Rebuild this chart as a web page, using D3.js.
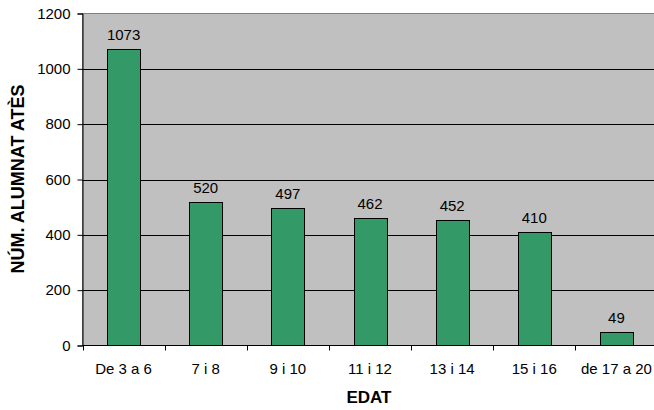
<!DOCTYPE html>
<html lang="ca">
<head>
<meta charset="UTF-8">
<title>Alumnat atès per edat</title>
<script src="https://d3js.org/d3.v7.min.js"></script>
<style>
  body { margin: 0; background: #fff; }
  text { font-family: "Liberation Sans", Arial, sans-serif; }
</style>
</head>
<body>
<svg width="654" height="410"></svg>
<script>
  // data
  let categories = ['De 3 a 6', '7 i 8', '9 i 10', '11 i 12', '13 i 14', '15 i 16', 'de 17 a 20']
  let values = [1073, 520, 497, 462, 452, 410, 49]
  let yTicks = [0, 200, 400, 600, 800, 1000, 1200]

  let svg = d3.select('svg')
  let plotL = 82.5, plotT = 13.5, plotR = 657.5, plotB = 345.5

  let x = d3.scaleBand().domain(categories).range([plotL, plotR]).paddingInner(0.6).paddingOuter(0.3)
  let y = d3.scaleLinear().domain([0, 1200]).range([plotB, plotT])

  // plot area
  svg.append('rect')
    .attr('x', plotL).attr('y', plotT)
    .attr('width', plotR - plotL).attr('height', plotB - plotT)
    .attr('fill', '#c0c0c0')
    .attr('stroke', '#808080')

  // gridlines
  svg.append('g').selectAll('line')
    .data(yTicks.filter(d => d > 0 && d < 1200))
    .join('line')
    .attr('x1', plotL).attr('x2', plotR)
    .attr('y1', d => Math.round(y(d)) + 0.5).attr('y2', d => Math.round(y(d)) + 0.5)
    .attr('stroke', '#000')

  // bars
  svg.append('g').selectAll('rect')
    .data(values)
    .join('rect')
    .attr('x', (d, i) => Math.round(x(categories[i])) + 0.5)
    .attr('y', d => Math.round(y(d)) + 0.5)
    .attr('width', Math.round(x.bandwidth()))
    .attr('height', d => plotB - Math.round(y(d)) - 0.5)
    .attr('fill', '#339966')
    .attr('stroke', '#000')

  // value labels
  svg.append('g').selectAll('text')
    .data(values)
    .join('text')
    .attr('x', (d, i) => x(categories[i]) + x.bandwidth() / 2)
    .attr('y', d => y(d) - 9)
    .attr('text-anchor', 'middle')
    .attr('font-size', 15)
    .attr('fill', '#000')
    .text(d => d)

  // y axis
  let yAxis = svg.append('g')
    .attr('transform', `translate(${plotL},0)`)
    .call(d3.axisLeft(y).tickValues(yTicks).tickFormat(d3.format('d')).tickSize(5).tickPadding(7))
  yAxis.select('.domain').attr('stroke', '#000')
  yAxis.selectAll('text').attr('font-size', 15).attr('font-family', '"Liberation Sans", Arial, sans-serif').attr('fill', '#000')

  // x axis (ticks between categories)
  let boundaries = d3.range(categories.length + 1).map(i => plotL + i * (plotR - plotL) / categories.length)
  svg.append('line')
    .attr('x1', plotL).attr('x2', plotR)
    .attr('y1', plotB).attr('y2', plotB)
    .attr('stroke', '#000')
  svg.append('g').selectAll('line')
    .data(boundaries)
    .join('line')
    .attr('x1', d => Math.round(d) + 0.5).attr('x2', d => Math.round(d) + 0.5)
    .attr('y1', plotB).attr('y2', plotB + 5)
    .attr('stroke', '#000')
  svg.append('g').selectAll('text')
    .data(categories)
    .join('text')
    .attr('x', d => x(d) + x.bandwidth() / 2)
    .attr('y', 374)
    .attr('text-anchor', 'middle')
    .attr('font-size', 15)
    .attr('fill', '#000')
    .text(d => d)

  // axis titles
  svg.append('text')
    .attr('x', 369).attr('y', 403)
    .attr('text-anchor', 'middle')
    .attr('font-size', 17).attr('font-weight', 'bold')
    .text('EDAT')
  svg.append('text')
    .attr('transform', 'translate(24,179) rotate(-90)')
    .attr('text-anchor', 'middle')
    .attr('font-size', 18).attr('font-weight', 'bold')
    .text('NÚM. ALUMNAT ATÈS')
</script>
</body>
</html>
